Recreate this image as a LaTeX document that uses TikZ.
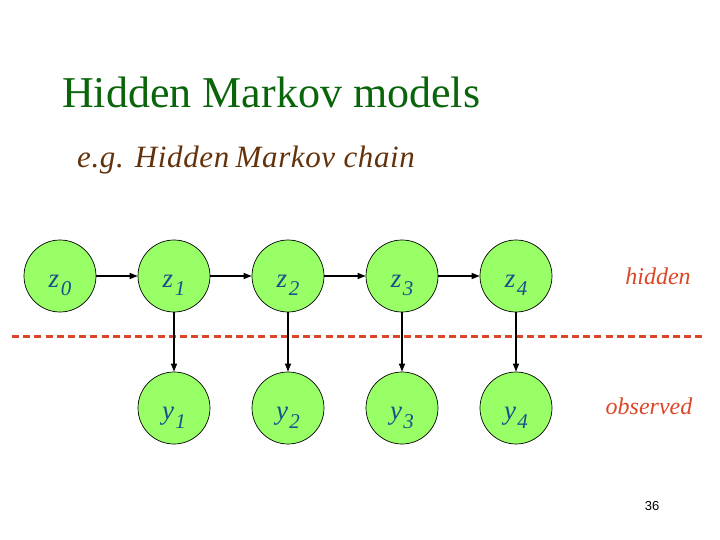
\documentclass[tikz,border=0pt]{standalone}
\usepackage{fontspec}
\setmainfont{Liberation Serif}
\newfontfamily\pagefont{Liberation Sans}
\usepackage{tikz}
\usetikzlibrary{arrows.meta, positioning}
\definecolor{mygreen}{RGB}{153,255,102}
\definecolor{mytitle}{RGB}{10,100,10}
\definecolor{mybrown}{RGB}{100,50,10}
\definecolor{myblue}{RGB}{25,80,140}
\definecolor{myred}{RGB}{220,70,40}
\newcommand{\varlbl}[2]{\raisebox{-11pt}{\itshape #1\kern1.5pt\raisebox{-9pt}{\fontsize{21}{21}\selectfont #2}}}
\tikzset{
  varnode/.style={circle, draw=black, fill=mygreen, line width=0.7pt,
    minimum size=72pt, inner sep=0pt, text height=0pt, text depth=0pt,
    text=myblue, font=\fontsize{27}{27}\selectfont},
  arrow/.style={-{Triangle[length=8pt, width=6pt]}, line width=1.4pt, color=black},
  sidelabel/.style={text=myred, font=\fontsize{24}{24}\selectfont\itshape}
}
\begin{document}
\begin{tikzpicture}[x=1pt, y=-1pt]
  \useasboundingbox (0,0) rectangle (720,540);
  % Titles
  \node[anchor=base west, inner sep=0pt, text=mytitle, font=\fontsize{44}{44}\selectfont] (title) at (62,108) {Hidden Markov models};
  \node[anchor=base west, inner sep=0pt, text=mybrown, font=\fontsize{31}{31}\selectfont\itshape\addfontfeature{LetterSpace=2}] (sub) at (77,168) {e.g. Hidden\kern-2pt\ Markov chain};

  % Hidden chain
  \node[varnode] (z0) at (60,276) {\varlbl{z}{0}};
  \foreach \i in {1,...,4} {
    \node[varnode] (z\i) at (60+114*\i,276) {\varlbl{z}{\i}};
    \node[varnode] (y\i) at (60+114*\i,408) {\varlbl{y}{\i}};
  }

  % Divider
  \coordinate (dl) at (12,336);
  \coordinate (dr) at (702,336);
  \draw[myred, line width=3pt, dash pattern=on 7pt off 4.2pt] (dl) -- (dr);

  % Arrows
  \foreach \i [count=\j from 1] in {0,...,3}
    \draw[arrow] (z\i) -- (z\j);
  \foreach \i in {1,...,4}
    \draw[arrow] (z\i) -- (y\i);

  % Side labels
  \node[sidelabel] (hid) at (658,276) {hidden};
  \node[sidelabel] (obs) at (649,406) {observed};

  % Page number
  \node[font=\pagefont\fontsize{13}{13}\selectfont] (pg) at (652,506) {36};
\end{tikzpicture}
\end{document}
